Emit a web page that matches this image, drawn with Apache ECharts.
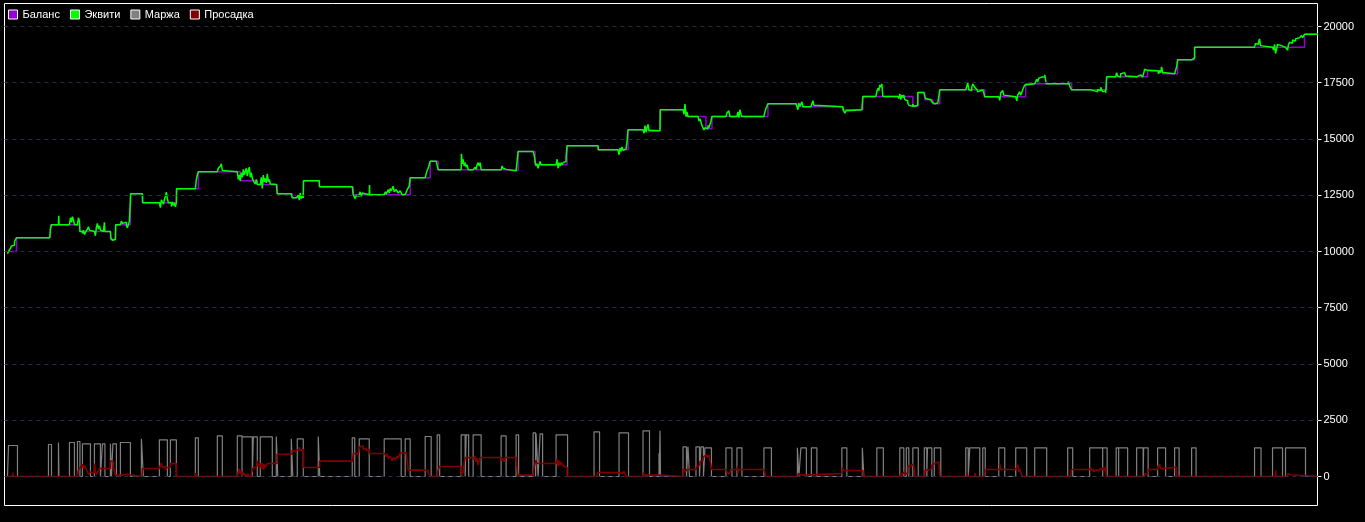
<!DOCTYPE html>
<html>
<head>
<meta charset="utf-8">
<script src="https://cdn.jsdelivr.net/npm/echarts@6/dist/echarts.min.js"></script>
<style>
html,body{margin:0;padding:0;background:#000;}
#chart{width:1365px;height:522px;}
</style>
</head>
<body>
<div id="chart"></div>
<script>
// legend names
const seriesNames = ['Баланс', 'Эквити', 'Маржа', 'Просадка'];
// right axis tick labels
const yTicks = [0, 2500, 5000, 7500, 10000, 12500, 15000, 17500, 20000];

// balance: [time index, value], value holds until next point
const balance = [
[7,10000],[16,10608],[50,11185],[79,10889],[110,10533],[115,11185],[130,12563],[142,12163],
[176,12785],[198,13541],[240,13141],[257,12977],[277,12563],[292,12385],[303,13141],[319,12874],
[353,12519],[410,13274],[430,14015],[438,13630],[506,13585],[518,14444],[535,13852],[567,14696],
[598,14518],[628,15407],[650,15363],[660,16296],[686,16000],[706,15450],[712,16000],[768,16563],
[797,16430],[843,16296],[863,16889],[913,16444],[918,17067],[925,16741],[933,16563],[940,17185],
[985,16874],[1026,17452],[1072,17185],[1107,17763],[1148,18030],[1163,17896],[1178,18519],
[1195,19074],[1305,19650],[1318,19650]
];

// equity: [time index, value]
const equity = [
[7,9900],[8,10000],[9,10050],[10,10150],[11,10250],[12,10320],[13,10280],[14,10450],[15,10430],[16,10608],
[49,10608],[49.5,10700],[50,11000],[51,11185],[58,11185],[58.3,11585],[58.6,11185],
[69,11185],[70,11500],[71,11300],[72,11550],[73,11400],[74,11185],[77,11185],[78,11500],[79,11350],[79.5,10889],
[82,10800],[83,10950],[84,10750],[85,10850],[86,10800],[87,11000],[88,11100],[89,10950],[90,10889],[94,10889],
[95,10700],[96,11100],[97,11250],[98,11000],[99,11150],[100,10950],[101,10889],[103,10889],[104,11300],[104.5,10889],
[110,10889],[110.5,10600],[112,10500],[114,10533],[115,10533],[115.3,11185],
[120,11185],[121,11350],[122,11250],[124,11300],[126,11150],[127,11050],[128,11200],[129,11350],[130,11400],[130.3,12563],
[142,12563],[142.3,12163],[159,12163],[160,11950],[161,12300],[162,12200],[163,12100],[164,12300],[165,12450],[166,12636],
[167,12350],[168,12163],[170,12163],[171,12000],[172,12200],[173,12050],[174,12163],[175,11980],[176,12163],[176.3,12785],
[195,12785],[196,13200],[197,13400],[198,13541],[217,13541],[218,13700],[219,13650],[220,13800],[221,13900],[222,13600],[223,13541],
[237,13541],[238,13200],[239,13400],[240,13141],[241,13500],[242,13300],[243,13650],[244,13400],[246,13700],[247,13350],
[248,13600],[249,13750],[250,13300],[251,13500],[252,13250],[253,13141],[255,13000],[256,13200],[257,12977],
[260,12950],[261,13300],[262,12800],[263,13400],[264,13100],[265,13250],[266,13050],[267,13450],[268,13100],[269,13200],
[270,13000],[272,12977],[276,12977],[277,12563],[291,12563],[292,12385],[296,12385],[297,12300],[298,12500],[299,12280],
[300,12600],[301,12350],[302,12500],[303,12385],[303.3,13141],[319,13141],[319.3,12874],[352,12874],[353,12519],
[354,12600],[355,12350],[356,12500],[358,12450],[359,12550],[360,12650],[361,12450],[362,12600],[364,12519],[369,12519],
[369.3,12950],[369.6,12519],[384,12519],[385,12650],[386,12550],[388,12750],[389,12600],[390,12800],[391,12700],[393,12900],
[394,12650],[396,12750],[398,12600],[400,12700],[402,12519],[405,12519],[406,12600],[407,12750],[409,12900],[410,13274],
[425,13274],[426,13450],[427,13600],[428,13700],[429,13850],[430,14015],[436,14015],[437,14100],[438,13630],
[461,13630],[461.3,14340],[462,13900],[463,14100],[464,13800],[465,13950],[466,13750],[467,13850],[468,13630],
[473,13630],[474,13550],[475,13750],[476,13650],[477,13850],[478,13950],[479,13800],[480,13950],[481,13630],
[501,13630],[502,13800],[503,13700],[504,13750],[505,13650],[506,13585],[516,13585],[517,13500],[518,14444],
[533,14444],[534,14300],[535,14000],[536,13800],[537,13900],[538,13700],[540,14000],[541,13852],
[556,13852],[557,14100],[558,13700],[559,13950],[560,13800],[561,13950],[562,13850],[563,13950],[565,14000],[566,14200],[567,14696],
[598,14696],[598.3,14518],[618,14518],[619,14300],[620,14600],[621,14450],[622,14650],[623,14500],[624,14550],[626,14600],
[627,14900],[628,15407],[643,15407],[644,15250],[645,15600],[646,15300],[647,15500],[648,15650],[649,15363],[660,15363],[660.3,16296],
[683,16296],[684,16100],[685,16550],[686,16000],[687,16200],[688,16000],[698,16000],[699,15800],[700,15900],[701,15750],
[702,15600],[703,15650],[704,15400],[705,15500],[706,15450],[708,15600],[709,15500],[711,15800],[712,16000],
[726,16000],[727,16150],[728,16100],[729,16250],[730,16000],[737,16000],[738,16200],[739,15950],[740,16300],[741,16100],[742,16000],
[764,16000],[765,16200],[766,16350],[767,16450],[768,16563],[796,16563],[797,16450],[798,16300],[799,16600],[800,16450],
[801,16500],[802,16650],[803,16430],[811,16430],[812,16550],[813,16700],[814,16500],[815,16430],[843,16430],[843.3,16296],
[844,16250],[845,16150],[846,16250],[847,16296],[862,16296],[863,16889],[876,16889],[877,17100],[878,17250],[879,17150],
[880,17400],[881,17300],[882,17450],[883,16889],[898,16889],[899,16800],[900,17000],[901,16750],[902,16950],[903,16850],
[904,16950],[905,16750],[907,16700],[908,16600],[909,16500],[911,16450],[913,16550],[914,16444],[916,16500],[918,17067],
[924,17067],[925,16900],[926,16800],[928,16741],[931,16741],[932,16650],[933,16563],[935,16650],[936,16500],[937,16600],
[938,16550],[940,17185],[966,17185],[967,17100],[968,17500],[969,17185],[971,17150],[972,17300],[973,17450],[974,17400],
[975,17300],[977,17200],[978,17100],[980,17185],[983,17185],[984,17050],[985,16874],[999,16874],[1000,16711],[1001,17050],
[1002,17100],[1003,17150],[1004,16950],[1005,16874],[1016,16874],[1017,16700],[1018,16950],[1019,16900],[1020,17100],
[1021,16950],[1022,17050],[1023,17200],[1024,17300],[1025,17400],[1026,17452],[1035,17452],[1036,17550],[1037,17650],
[1038,17550],[1039,17700],[1040,17650],[1041,17750],[1042,17700],[1043,17800],[1044,17750],[1045,17850],[1046,17600],
[1046.5,17452],[1068,17452],[1069,17550],[1070,17350],[1071,17300],[1072,17185],[1090,17185],[1091,17250],[1092,17150],
[1094,17200],[1096,17100],[1098,17200],[1100,17150],[1101,17300],[1103,17100],[1105,17150],[1106,17050],[1107,17763],
[1116,17763],[1117,17950],[1118,17800],[1120,17750],[1121,17900],[1123,17950],[1125,17900],[1126,17800],[1127,17763],
[1137,17763],[1138,17700],[1139,17850],[1141,17800],[1143,17750],[1144,17763],[1144.5,18000],[1145,18100],[1147,18050],
[1148,18030],[1158,18030],[1159,17900],[1160,18050],[1161,17950],[1162,18200],[1163,17950],[1164,18000],[1165,17896],
[1175,17896],[1176,17950],[1177,18200],[1178,18519],[1192,18519],[1193,18450],[1194,18600],[1195,19074],
[1255,19074],[1256,19250],[1257,19200],[1259,19300],[1260,19450],[1261,19150],[1262,19074],[1273,19074],[1274,18950],
[1275,19200],[1276,18800],[1277,19000],[1278,19200],[1279,19250],[1280,19150],[1282,19100],[1283,19074],[1286,19074],
[1287,19000],[1288,18950],[1289,19200],[1290,19300],[1292,19250],[1293,19400],[1295,19350],[1296,19450],[1298,19500],
[1300,19450],[1302,19600],[1303,19500],[1305,19650],[1318,19650]
];

// margin pulses: [open, close, margin]
const marginPulses = [
[8,17,1377],[48,51,1422],[58,58.5,1511],[69,74,1511],[77,79.5,1555],[82,90,1451],[94,100,1451],[102,104.5,1451],
[110,111,1451],[112.5,116,1451],[120,130,1511],[141,143,1674],[159,167,1629],[170,176,1629],[195,198,1718],[217,222,1807],
[237,241.7,1807],[241.7,252,1763],[253,257,1763],[260,272,1763],[276,277.5,1778],[291,292.5,1674],[297,303,1674],
[318,319.5,1778],[352,354.5,1718],[359,369,1674],[384,401,1674],[405,410,1674],[425,431,1778],[437,439.5,1851],
[461,465,1851],[466,468.5,1851],[473,481,1851],[501,506,1807],[516,518.5,1851],[533,535.5,1940],[536,538,1896],
[540,542.5,1896],[556,567.5,1851],[594,599.5,1985],[619,628.5,1940],[643,649.5,2029],[659,659.3,1030],[660,660.5,2029],
[683,686.5,1318],[688,689.5,1318],[696,699.5,1318],[701,703.5,1318],[705,711.5,1274],[726,732,1274],[737,742,1274],
[764,771.5,1274],[797.5,799,1274],[801,806.5,1274],[811.5,817,1274],[842,847,1274],[862.5,864,1274],[877,883.5,1274],
[900,904,1274],[906.5,909,1274],[913,918.5,1274],[924.5,927,1274],[927.7,932,1274],[934.5,941,1274],[966,968.5,1274],
[970,980,1274],[983,985.5,1274],[999,1005,1274],[1016,1027,1274],[1035,1047,1274],[1068,1073,1274],[1090,1103,1274],
[1103,1107.5,1274],[1116.5,1119,1274],[1119,1128,1274],[1137,1143.5,1274],[1144,1148.5,1274],[1158,1166,1274],
[1175,1179.5,1274],[1192,1196.5,1274],[1255,1261.5,1274],[1273,1283,1274],[1286,1306,1274]
];

// drawdown: [time index, value]
const drawdown = [
[7,0],[12,0],[12.3,170],[12.6,0],[77,0],[78,300],[79,355],[80,400],[81,450],[82,548],[83,350],[84,500],[85,420],
[86,300],[87,200],[88,100],[89,59],[90,200],[91,150],[94,300],[94.3,577],[95,200],[96,100],[97,150],[98,250],[99,355],
[110,355],[110.3,696],[112,650],[113,400],[115,59],[118,30],[120,59],[122,0],[124,100],[126,30],[128,60],[130,0],
[141.7,0],[142,355],[159,355],[160,500],[161,600],[162,400],[163,450],[165,300],[166.7,400],[170,577],[176,577],[176.3,0],
[195,0],[195.3,150],[195.6,0],[217,0],[217.3,80],[217.6,0],[237,0],[238,200],[239,350],[240,100],[241,250],[242,50],
[243,0],[244,150],[245,30],[247,100],[248,0],[250,0],[251,150],[252,200],[253,400],[256,400],[257,700],[258,450],
[260,577],[261,350],[262,600],[263,300],[264,550],[265,400],[267,577],[271.7,577],[276.7,992],[291.7,992],[292,1170],
[293,1250],[294,1100],[296,1200],[297,1170],[299,1300],[300,1150],[302,1200],[303.3,400],[319.3,681],[352.3,681],
[353,1021],[354,1000],[358,1021],[359.3,1317],[360,1250],[361,1350],[363,1200],[365,1250],[366,1150],[368,1200],
[369.3,1021],[384.3,1021],[385,1050],[386,900],[387,1000],[388,800],[390,900],[392,700],[393,850],[395,750],[397,900],
[398,800],[400,1051],[406,1000],[407,700],[408,281],[425.3,281],[426,250],[428,150],[430,0],[437.3,0],[437.5,207],
[439.3,444],[461,444],[461.3,59],[463,200],[464,600],[465,844],[473,844],[474,750],[475,900],[476,650],[477,800],
[478,500],[479,700],[480,844],[501,844],[502,700],[503,800],[504,650],[505,844],[516,844],[517.7,59],[533,59],
[534,400],[535,600],[536,725],[537,577],[556,577],[557,800],[558,450],[559,700],[560,500],[561,650],[562,550],
[564,450],[566,400],[567,0],[597,0],[597.3,177],[619,177],[620,250],[621,120],[622,200],[623,100],[624,230],[625,150],
[626,0],[643,0],[643.5,177],[644,59],[650,59],[659,0],[683,0],[683.5,355],[685,200],[687,311],[696,311],[697,450],
[699,500],[700,650],[702,700],[703,800],[704,900],[706,950],[707,850],[709,947],[711,900],[711.7,311],[726,311],
[727,200],[728,250],[729,100],[730,200],[731,311],[737,311],[737.5,450],[738,150],[739,311],[764,311],[765,150],
[766,0],[798,0],[798.3,133],[800,59],[801,133],[803,59],[804,133],[842,133],[842.5,400],[843,350],[844,266],[863,266],
[863.5,0],[900,0],[901,150],[902,50],[904,200],[905,100],[906,150],[908,459],[911,459],[912,550],[914,459],[915,0],
[925,0],[925.3,281],[928,281],[930,350],[932,500],[933,577],[935,600],[937,650],[939,577],[940,0],[967,0],[967.5,200],
[968,0],[975,0],[975.3,150],[975.6,0],[985,0],[985.3,311],[1000,311],[1000.3,533],[1001,311],[1016,311],[1018,533],
[1019,200],[1020,350],[1021,150],[1023,0],[1071,0],[1071.7,311],[1090,311],[1091,400],[1092,250],[1093,350],[1094,200],
[1096,300],[1098,250],[1100,350],[1102,300],[1103,400],[1105,250],[1106,450],[1106.7,0],[1145,0],[1145.3,133],
[1147,100],[1148.3,311],[1158,311],[1158.3,500],[1159,400],[1160,550],[1161,350],[1163.3,414],[1176.7,414],[1177,0],
[1276,0],[1276.2,280],[1276.5,0],[1288,0],[1288.3,130],[1290,80],[1291,0],[1318,0]
];

const colors = { balance: '#9400d3', equity: '#00ff00', margin: '#808080', drawdown: '#800000' };

// build margin step outline from pulses
const marginData = [[7, 0]];
marginPulses.forEach(p => {
  marginData.push([p[0], 0], [p[0], p[2]], [p[1], p[2]], [p[1], 0]);
});
marginData.push([1318, 0]);

const chart = echarts.init(document.getElementById('chart'), null, { renderer: 'canvas' });
const fontFamily = '"Liberation Sans", Arial, sans-serif';

chart.setOption({
  backgroundColor: '#000',
  animation: false,
  legend: {
    left: 8, top: 9, padding: 0, itemGap: 10, itemWidth: 9, itemHeight: 9, icon: 'rect',
    textStyle: { color: '#fff', fontSize: 11, fontFamily: fontFamily },
    data: [
      { name: seriesNames[0], itemStyle: { color: colors.balance, borderColor: '#fff', borderWidth: 1 } },
      { name: seriesNames[1], itemStyle: { color: colors.equity, borderColor: '#fff', borderWidth: 1 } },
      { name: seriesNames[2], itemStyle: { color: colors.margin, borderColor: '#fff', borderWidth: 1 } },
      { name: seriesNames[3], itemStyle: { color: colors.drawdown, borderColor: '#fff', borderWidth: 1 } }
    ]
  },
  grid: { left: 4.5, right: 47.5, top: 3.5, bottom: 16.5, show: true, borderColor: '#ffffff', borderWidth: 1, backgroundColor: '#000' },
  xAxis: {
    type: 'value', min: 4, max: 1318,
    axisLine: { show: false }, axisTick: { show: false }, axisLabel: { show: false }, splitLine: { show: false }
  },
  yAxis: {
    type: 'value', position: 'right', min: -1289, max: 21022,
    axisLine: { show: false },
    axisTick: { show: true, length: 4, customValues: yTicks, lineStyle: { color: '#fff' } },
    axisLabel: { customValues: yTicks, color: '#fff', fontSize: 11, fontFamily: fontFamily, margin: 6,
                 formatter: v => String(v) },
    splitLine: { show: false }
  },
  series: [
    {
      name: seriesNames[2], type: 'line', data: marginData, showSymbol: false, silent: true,
      lineStyle: { color: colors.margin, width: 1.2 }, itemStyle: { color: colors.margin },
      markLine: {
        silent: true, symbol: 'none', label: { show: false },
        lineStyle: { color: '#2b2b4e', type: [4, 4], width: 1 },
        data: yTicks.map(v => ({ yAxis: v }))
      },
      z: 1
    },
    {
      name: seriesNames[3], type: 'line', data: drawdown, step: 'end', showSymbol: false, silent: true,
      lineStyle: { color: colors.drawdown, width: 1.6 }, itemStyle: { color: colors.drawdown }, z: 2
    },
    {
      name: seriesNames[0], type: 'line', data: balance, step: 'end', showSymbol: false, silent: true,
      lineStyle: { color: colors.balance, width: 1.5 }, itemStyle: { color: colors.balance }, z: 3
    },
    {
      name: seriesNames[1], type: 'line', data: equity, step: 'end', showSymbol: false, silent: true,
      lineStyle: { color: colors.equity, width: 1.5 }, itemStyle: { color: colors.equity }, z: 4
    }
  ]
});
</script>
</body>
</html>
